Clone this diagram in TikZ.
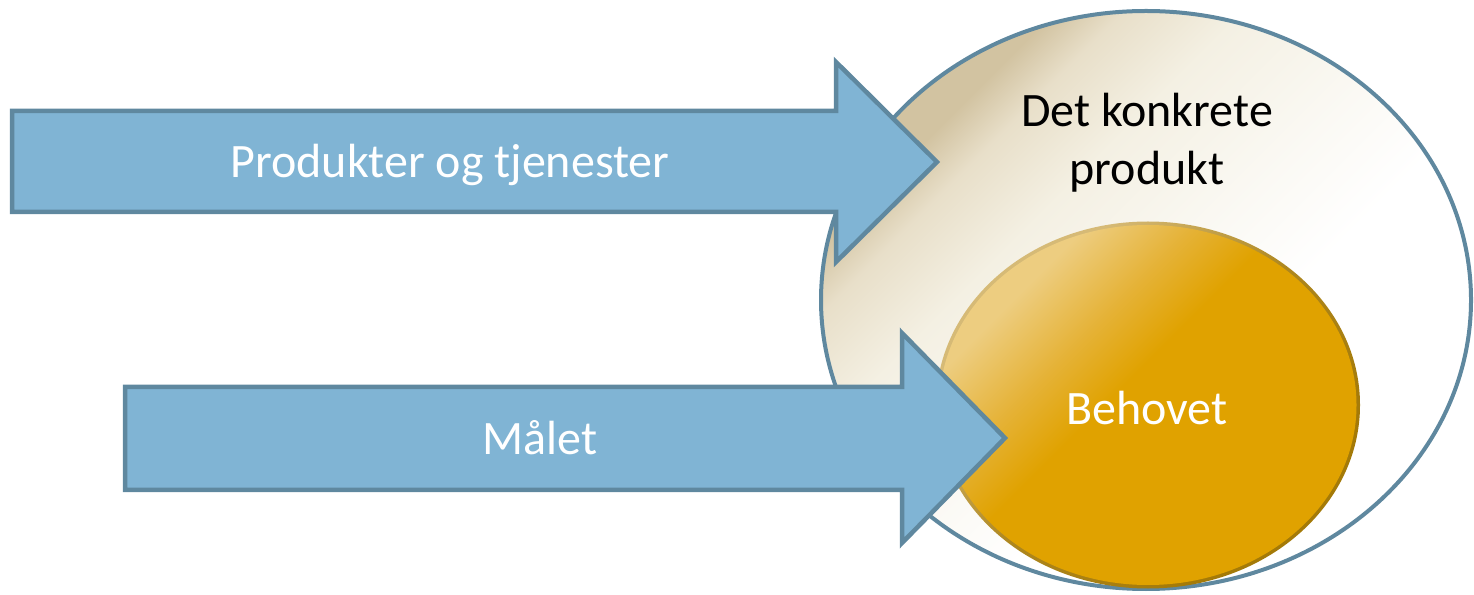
\documentclass[tikz,border=0pt]{standalone}
\usepackage{fontspec}
\setmainfont{Carlito}
\usetikzlibrary{shapes.geometric}

\definecolor{pilfyll}{HTML}{80B4D4}
\definecolor{pilkant}{HTML}{5F889F}
\definecolor{ytremork}{HTML}{D2C3A1}
\definecolor{ytremid}{HTML}{E8DFC9}
\definecolor{ytrelys}{HTML}{F4F0E3}
\definecolor{indrelys}{HTML}{EDCD80}
\definecolor{indremid}{HTML}{E5B236}
\definecolor{indrefyll}{HTML}{E0A200}
\definecolor{randlys}{HTML}{D6BA76}
\definecolor{randmork}{HTML}{A47A08}

\pgfdeclarehorizontalshading{ytreskygge}{100bp}{color(0bp)=(ytremork); color(28bp)=(ytremork);
  color(32bp)=(ytremid); color(39bp)=(ytrelys); color(50bp)=(ytrelys!40!white); color(58bp)=(white); color(100bp)=(white)}
\pgfdeclarehorizontalshading{indreskygge}{100bp}{color(0bp)=(indrelys); color(28bp)=(indrelys);
  color(38bp)=(indremid); color(46bp)=(indrefyll); color(100bp)=(indrefyll)}
\pgfdeclarehorizontalshading{randskygge}{100bp}{color(0bp)=(randlys); color(30bp)=(randlys);
  color(50bp)=(randmork!80!randlys); color(70bp)=(randmork); color(100bp)=(randmork)}

\tikzset{
  pil/.style={fill=pilfyll, draw=pilkant, line width=4.5pt, line join=miter},
  piltekst/.style={text=white, anchor=base},
  sirkel/.style={ellipse, inner sep=0pt},
}

\begin{document}
\begin{tikzpicture}[x=1pt, y=1pt, font=\fontsize{48}{58}\selectfont]
  \useasboundingbox (0,0) rectangle (1474,594);

  % ellipsene
  \node[sirkel, draw=pilkant, line width=4pt, shading=ytreskygge, shading angle=-45,
        minimum width=650, minimum height=578] (ytre) at (1146,294) {};
  \node[sirkel, shading=randskygge, shading angle=-45,
        minimum width=424, minimum height=367] (indrerand) at (1148,189) {};
  \node[sirkel, shading=indreskygge, shading angle=-45,
        minimum width=417, minimum height=360] (indre) at (indrerand) {};

  % pilene
  \draw[pil] (12,483) -- (836,483) -- (836,532) -- (937,432)
    -- (836,332) -- (836,382) -- (12,382) -- cycle;
  \draw[pil] (125,207) -- (902,207) -- (902,261) -- (1005,156)
    -- (902,51) -- (902,104) -- (125,104) -- cycle;

  % tekstene
  \node[piltekst] (produkter) at (450,416) {Produkter og tjenester};
  \node[piltekst] (maalet) at (540,139) {Målet};
  \node[align=center] (konkret) at (1147,451) {Det konkrete\\produkt};
  \node[text=white, anchor=base] (behovet) at (1147,169) {Behovet};
\end{tikzpicture}
\end{document}
